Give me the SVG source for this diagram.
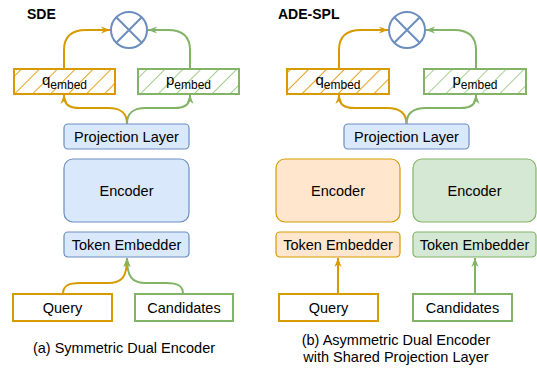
<svg xmlns="http://www.w3.org/2000/svg" width="537" height="368" viewBox="0 0 537 368">
<style>
text{font-family:"Liberation Sans",Arial,sans-serif;fill:#000;}
.lbl{font-size:14.5px;text-anchor:middle;}
.ttl{font-size:14px;font-weight:bold;}
.blue{fill:#dae8fc;stroke:#6c8ebf;stroke-width:1.2;}
.ofill{fill:#ffe6cc;stroke:#d79b00;stroke-width:1.2;}
.gfill{fill:#d5e8d4;stroke:#82b366;stroke-width:1.2;}
.obox{fill:#fff;stroke:#d79b00;stroke-width:2;}
.gbox{fill:#fff;stroke:#82b366;stroke-width:2;}
.ohatch{fill:url(#hO);stroke:#d79b00;stroke-width:2;}
.ghatch{fill:url(#hG);stroke:#82b366;stroke-width:2;}
.circ{fill:#fff;stroke:#6c8ebf;stroke-width:2;}
.oline{fill:none;stroke:#d79b00;stroke-width:2;marker-end:url(#aO);}
.gline{fill:none;stroke:#82b366;stroke-width:2;marker-end:url(#aG);}
</style>
<defs>
<pattern id="hO" width="12.7" height="12.7" patternUnits="userSpaceOnUse" patternTransform="rotate(45)">
<rect width="12.7" height="12.7" fill="#fff"/>
<line x1="0" y1="0" x2="0" y2="12.7" stroke="#e3a21a" stroke-width="2"/>
</pattern>
<pattern id="hG" width="12.7" height="12.7" patternUnits="userSpaceOnUse" patternTransform="rotate(45)">
<rect width="12.7" height="12.7" fill="#fff"/>
<line x1="0" y1="0" x2="0" y2="12.7" stroke="#a5cf8c" stroke-width="2"/>
</pattern>
<marker id="aO" viewBox="0 0 10 10" refX="10" refY="5" markerWidth="9" markerHeight="9" markerUnits="userSpaceOnUse" orient="auto">
<path d="M0,1 L10,5 L0,9 L3,5 z" fill="#d79b00"/>
</marker>
<marker id="aG" viewBox="0 0 10 10" refX="10" refY="5" markerWidth="9" markerHeight="9" markerUnits="userSpaceOnUse" orient="auto">
<path d="M0,1 L10,5 L0,9 L3,5 z" fill="#82b366"/>
</marker>
</defs>

<g id="connectors">
<path class="oline" d="M64,69 L64,50 C64,36 72,30 86,30 L110,30"/>
<path class="gline" d="M190,69 L190,50 C190,36 182,30 168,30 L148,30"/>
<path class="oline" d="M127,124 C127,112 120,108 108,108 L80,108 C68,108 64,104 64,95"/>
<path class="gline" d="M127,124 C127,112 134,108 146,108 L174,108 C186,108 190,104 190,95"/>
<path class="oline" d="M63,294 C63,286 68,283 80,283 L108,283 C122,283 127,277 127,258"/>
<path class="gline" d="M183,294 C183,286 178,283 166,283 L146,283 C132,283 127,277 127,258"/>

<path class="oline" d="M339,69 L339,50 C339,36 347,30 361,30 L388,30"/>
<path class="gline" d="M476,69 L476,50 C476,36 468,30 454,30 L426,30"/>
<path class="oline" d="M406.5,124 C406.5,112 399,108 387,108 L355,108 C343,108 339,104 339,95"/>
<path class="gline" d="M406.5,124 C406.5,112 414,108 426,108 L460,108 C472,108 476,104 476,95"/>
<path class="oline" d="M338,294 L338,258"/>
<path class="gline" d="M475,294 L475,258"/>
</g>

<g id="title-sde"><text class="ttl" x="27" y="19">SDE</text></g>
<g id="title-ade"><text class="ttl" x="278" y="19">ADE-SPL</text></g>

<g id="mult-left">
<circle class="circ" cx="129" cy="30" r="18"/>
<path d="M116.3,17.3 L141.7,42.7 M141.7,17.3 L116.3,42.7" stroke="#6c8ebf" stroke-width="2"/>
</g>
<g id="qembed-left">
<rect class="ohatch" x="14" y="69" width="101" height="25"/>
<text x="64.5" y="85" style="font-size:15px;text-anchor:middle">q<tspan style="font-size:12px" dy="4">embed</tspan></text>
</g>
<g id="pembed-left">
<rect class="ghatch" x="138" y="69" width="101" height="25"/>
<text x="188.5" y="85" style="font-size:15px;text-anchor:middle">p<tspan style="font-size:12px" dy="4">embed</tspan></text>
</g>
<g id="proj-left">
<rect class="blue" x="64" y="124" width="125" height="25" rx="4"/>
<text class="lbl" x="126.5" y="142">Projection Layer</text>
</g>
<g id="enc-left">
<rect class="blue" x="64" y="159" width="125" height="63" rx="9"/>
<text class="lbl" x="126.5" y="196">Encoder</text>
</g>
<g id="tok-left">
<rect class="blue" x="64" y="232" width="125" height="25" rx="4"/>
<text class="lbl" x="126.5" y="250">Token Embedder</text>
</g>
<g id="query-left">
<rect class="obox" x="13" y="294" width="99" height="27"/>
<text class="lbl" x="62.5" y="312.5">Query</text>
</g>
<g id="cand-left">
<rect class="gbox" x="135" y="294" width="98" height="27"/>
<text class="lbl" x="184" y="312.5">Candidates</text>
</g>
<g id="caption-a">
<text class="lbl" x="124" y="353">(a) Symmetric Dual Encoder</text>
</g>

<g id="mult-right">
<circle class="circ" cx="407" cy="30" r="18"/>
<path d="M394.3,17.3 L419.7,42.7 M419.7,17.3 L394.3,42.7" stroke="#6c8ebf" stroke-width="2"/>
</g>
<g id="qembed-right">
<rect class="ohatch" x="287" y="69" width="102" height="25"/>
<text x="338" y="85" style="font-size:15px;text-anchor:middle">q<tspan style="font-size:12px" dy="4">embed</tspan></text>
</g>
<g id="pembed-right">
<rect class="ghatch" x="424" y="69" width="102" height="25"/>
<text x="475" y="85" style="font-size:15px;text-anchor:middle">p<tspan style="font-size:12px" dy="4">embed</tspan></text>
</g>
<g id="proj-right">
<rect class="blue" x="344" y="124" width="125" height="25" rx="4"/>
<text class="lbl" x="406.5" y="142">Projection Layer</text>
</g>
<g id="enc-right-q">
<rect class="ofill" x="276" y="159" width="124" height="63" rx="9"/>
<text class="lbl" x="338" y="196">Encoder</text>
</g>
<g id="enc-right-c">
<rect class="gfill" x="413" y="159" width="123" height="63" rx="9"/>
<text class="lbl" x="474.5" y="196">Encoder</text>
</g>
<g id="tok-right-q">
<rect class="ofill" x="276" y="232" width="124" height="25" rx="4"/>
<text class="lbl" x="338" y="250">Token Embedder</text>
</g>
<g id="tok-right-c">
<rect class="gfill" x="413" y="232" width="123" height="25" rx="4"/>
<text class="lbl" x="474.5" y="250">Token Embedder</text>
</g>
<g id="query-right">
<rect class="obox" x="279" y="294" width="99" height="27"/>
<text class="lbl" x="328.5" y="312.5">Query</text>
</g>
<g id="cand-right">
<rect class="gbox" x="413" y="294" width="99" height="27"/>
<text class="lbl" x="462.5" y="312.5">Candidates</text>
</g>
<g id="caption-b">
<text class="lbl" x="396" y="345">(b) Asymmetric Dual Encoder</text>
<text class="lbl" x="396" y="362">with Shared Projection Layer</text>
</g>
</svg>
